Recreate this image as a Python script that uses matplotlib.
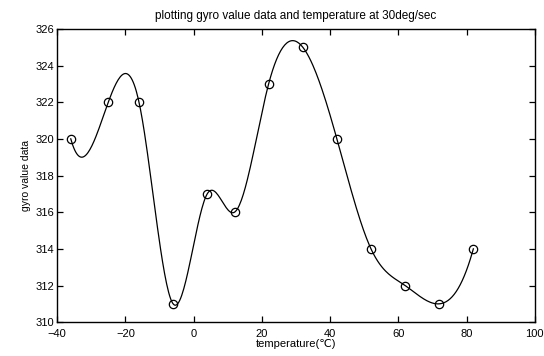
import numpy as np
import matplotlib
matplotlib.use("Agg")
import matplotlib.pyplot as plt

# donnees
temperature = [-36, -25, -16, -6, 4, 12, 22, 32, 42, 52, 62, 72, 82]
gyro_value = [320, 322, 322, 311, 317, 316, 323, 325, 320, 314, 312, 311, 314]

x_ticks = [-40, -20, 0, 20, 40, 60, 80, 100]
y_ticks = [310, 312, 314, 316, 318, 320, 322, 324, 326]


# spline cubique "not-a-knot" (comme spline() de MATLAB)
def spline_not_a_knot(x, y, xs):
    x = np.asarray(x, float)
    y = np.asarray(y, float)
    n = len(x)
    h = np.diff(x)
    A = np.zeros((n, n))
    b = np.zeros(n)
    A[0, 0], A[0, 1], A[0, 2] = h[1], -(h[0] + h[1]), h[0]
    A[-1, -3], A[-1, -2], A[-1, -1] = h[-1], -(h[-2] + h[-1]), h[-2]
    for i in range(1, n - 1):
        A[i, i - 1] = h[i - 1]
        A[i, i] = 2 * (h[i - 1] + h[i])
        A[i, i + 1] = h[i]
        b[i] = 6 * ((y[i + 1] - y[i]) / h[i] - (y[i] - y[i - 1]) / h[i - 1])
    M = np.linalg.solve(A, b)
    idx = np.clip(np.searchsorted(x, xs) - 1, 0, n - 2)
    hi = h[idx]
    a = x[idx + 1] - xs
    t = xs - x[idx]
    return (M[idx] * a**3 / (6 * hi) + M[idx + 1] * t**3 / (6 * hi)
            + (y[idx] / hi - M[idx] * hi / 6) * a
            + (y[idx + 1] / hi - M[idx + 1] * hi / 6) * t)


plt.rcParams['font.family'] = ['Liberation Sans', 'DejaVu Sans']

fig = plt.figure(figsize=(5.44, 3.56), dpi=100)
ax = fig.add_axes([0.105, 0.095, 0.878, 0.824])

xs = np.linspace(temperature[0], temperature[-1], 400)
ax.plot(xs, spline_not_a_knot(temperature, gyro_value, xs), color='black', lw=0.9)
ax.plot(temperature, gyro_value, 'o', mfc='none', mec='black', ms=6, mew=0.9)

ax.set_xlim(-40, 100)
ax.set_ylim(310, 326)
ax.set_xticks(x_ticks)
ax.set_yticks(y_ticks)
ax.tick_params(direction='in', top=True, right=True, length=4, width=0.9,
               labelsize=8)
ax.tick_params(axis='x', pad=5)
ax.tick_params(axis='y', pad=2)
for s in ax.spines.values():
    s.set_linewidth(1.0)

ax.set_title('plotting gyro value data and temperature at 30deg/sec', fontsize=8.5, pad=7)
ax.set_xlabel('temperature(\u2103)', fontsize=8, labelpad=0)
ax.set_ylabel('gyro value data', fontsize=7.5, labelpad=3)

fig.savefig('out.png', dpi=100)
